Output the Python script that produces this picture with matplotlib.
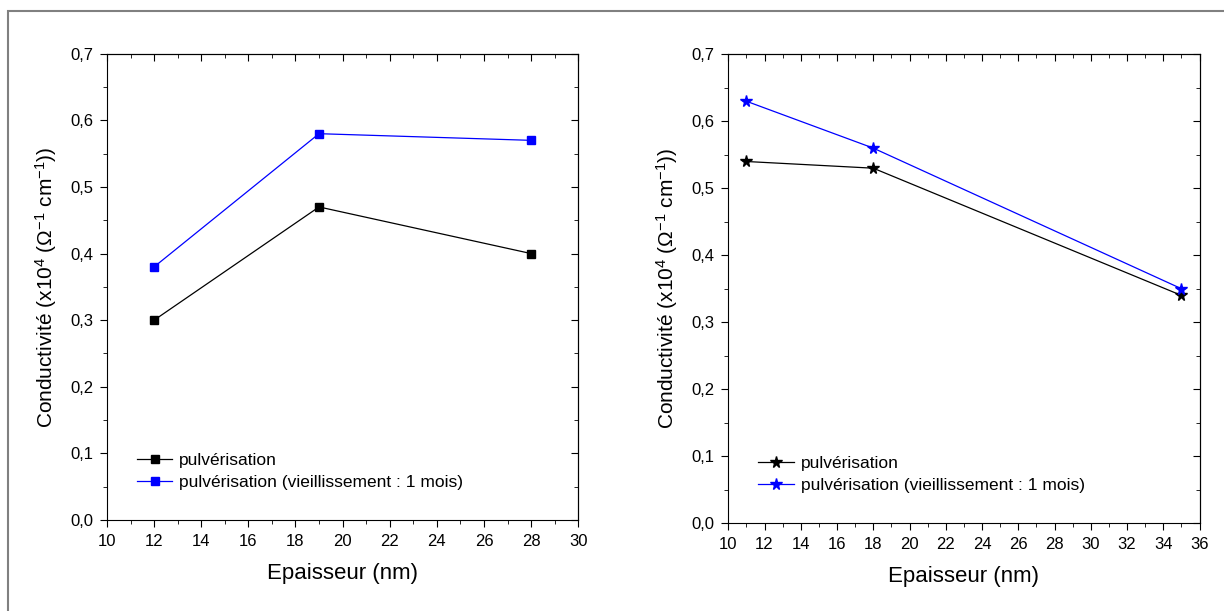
import matplotlib
matplotlib.use("Agg")
import matplotlib.pyplot as plt
from matplotlib.ticker import MultipleLocator, FuncFormatter, NullFormatter
from matplotlib.patches import Rectangle

plt.rcParams['font.family'] = ['Liberation Sans', 'DejaVu Sans']
plt.rcParams['mathtext.fontset'] = 'custom'
plt.rcParams['mathtext.rm'] = 'Liberation Sans'
plt.rcParams['mathtext.it'] = 'Liberation Sans'

# Données - graphique de gauche (carrés)
ep_gauche = [12, 19, 28]
cond_gauche = [0.30, 0.47, 0.40]
cond_gauche_vieil = [0.38, 0.58, 0.57]

# Données - graphique de droite (étoiles)
ep_droite = [11, 18, 35]
cond_droite = [0.54, 0.53, 0.34]
cond_droite_vieil = [0.63, 0.56, 0.35]

noms = ["pulvérisation", "pulvérisation (vieillissement : 1 mois)"]
ylabel = r"Conductivité (x10$^{4}$ ($\Omega^{-1}$ cm$^{-1}$))"

fig = plt.figure(figsize=(12.24, 6.11), dpi=100)
fig.patches.append(Rectangle((8 / 1224, -0.1), 1.2, 1 - 11 / 611 + 0.1, transform=fig.transFigure,
                             fill=False, edgecolor='#808080', linewidth=1.5))

virgule = FuncFormatter(lambda v, p: f"{v:.1f}".replace('.', ','))


def reglages_ticks(axe, pas_maj, pas_min):
    axe.set_major_locator(MultipleLocator(pas_maj))
    axe.set_minor_locator(MultipleLocator(pas_min))


def tracer(ax, x, y1, y2, marqueur, taille, xlim):
    ax.plot(x, y1, color='black', marker=marqueur, markersize=taille, linewidth=0.9, label=noms[0])
    ax.plot(x, y2, color='#0000ff', marker=marqueur, markersize=taille, linewidth=0.9, label=noms[1])
    ax.set_xlim(*xlim)
    ax.set_ylim(0, 0.7)
    reglages_ticks(ax.xaxis, 2, 1)
    reglages_ticks(ax.yaxis, 0.1, 0.05)
    ax.yaxis.set_major_formatter(virgule)
    ax.tick_params(which='both', direction='out', labelsize=12, pad=5)
    ax.tick_params(which='major', length=5)
    ax.tick_params(which='minor', length=3)
    # ticks du haut et de droite tournés vers l'intérieur
    haut = ax.secondary_xaxis('top')
    droite = ax.secondary_yaxis('right')
    reglages_ticks(haut.xaxis, 2, 1)
    reglages_ticks(droite.yaxis, 0.1, 0.05)
    for sec in (haut, droite):
        sec.tick_params(which='both', direction='in', labelsize=0)
        sec.tick_params(which='major', length=5)
        sec.tick_params(which='minor', length=3)
    haut.xaxis.set_major_formatter(NullFormatter())
    droite.yaxis.set_major_formatter(NullFormatter())
    ax.set_xlabel("Epaisseur (nm)", fontsize=16, labelpad=10)
    ax.set_ylabel(ylabel, fontsize=15, labelpad=8)
    ax.legend(loc='lower left', bbox_to_anchor=(0.045, 0.045), frameon=False, fontsize=12.5,
              handlelength=2.05, handletextpad=0.4, labelspacing=0.4, borderpad=0.0)


ax1 = fig.add_axes([0.0874, 0.149, 0.385, 0.763])
tracer(ax1, ep_gauche, cond_gauche, cond_gauche_vieil, 's', 6, (10, 30))

ax2 = fig.add_axes([0.595, 0.144, 0.385, 0.767])
tracer(ax2, ep_droite, cond_droite, cond_droite_vieil, '*', 8.5, (10, 36))

fig.savefig("out.png", dpi=100)
